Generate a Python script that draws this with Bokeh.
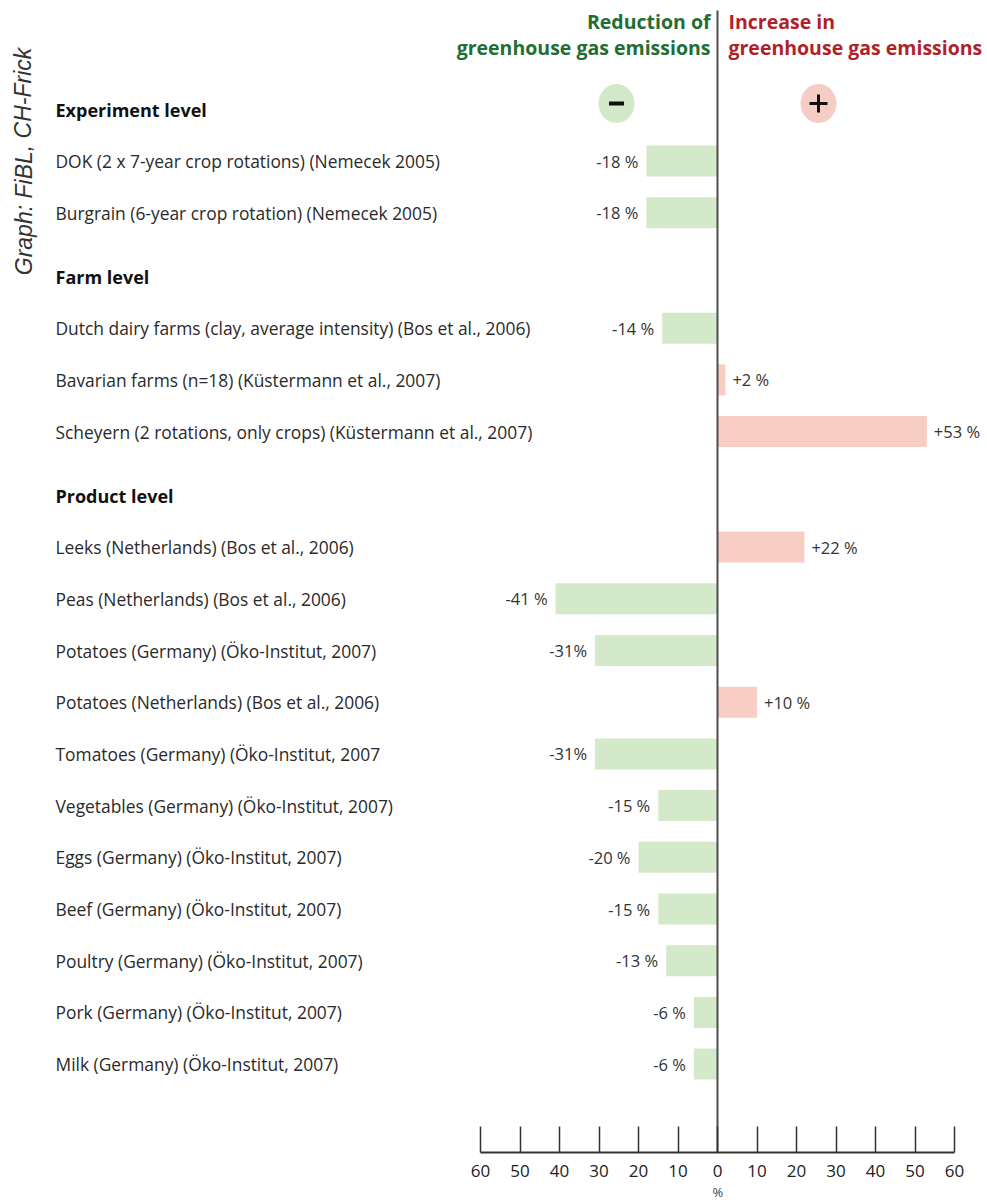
from bokeh.plotting import figure
from bokeh.models import Range1d, LinearAxis, FixedTicker, CustomJSTickFormatter, ColumnDataSource, Title
from bokeh.core.properties import value
from bokeh.embed import file_html
from bokeh.resources import INLINE

# ---------------- data ----------------
groups = ["Experiment level", "Farm level", "Product level"]
group_sizes = [2, 3, 11]
studies = [
    "DOK (2 x 7-year crop rotations) (Nemecek 2005)",
    "Burgrain (6-year crop rotation) (Nemecek 2005)",
    "Dutch dairy farms (clay, average intensity) (Bos et al., 2006)",
    "Bavarian farms (n=18) (Küstermann et al., 2007)",
    "Scheyern (2 rotations, only crops) (Küstermann et al., 2007)",
    "Leeks (Netherlands) (Bos et al., 2006)",
    "Peas (Netherlands) (Bos et al., 2006)",
    "Potatoes (Germany) (Öko-Institut, 2007)",
    "Potatoes (Netherlands) (Bos et al., 2006)",
    "Tomatoes (Germany) (Öko-Institut, 2007",
    "Vegetables (Germany) (Öko-Institut, 2007)",
    "Eggs (Germany) (Öko-Institut, 2007)",
    "Beef (Germany) (Öko-Institut, 2007)",
    "Poultry (Germany) (Öko-Institut, 2007)",
    "Pork (Germany) (Öko-Institut, 2007)",
    "Milk (Germany) (Öko-Institut, 2007)",
]
changes = [-18, -18, -14, 2, 53, 22, -41, -31, 10, -31, -15, -20, -15, -13, -6, -6]
change_labels = ["-18 %", "-18 %", "-14 %", "+2 %", "+53 %", "+22 %", "-41 %", "-31%",
                 "+10 %", "-31%", "-15 %", "-20 %", "-15 %", "-13 %", "-6 %", "-6 %"]
axis_ticks = [-60, -50, -40, -30, -20, -10, 0, 10, 20, 30, 40, 50, 60]
title_neg = ["Reduction of", "greenhouse gas emissions"]
title_pos = ["Increase in", "greenhouse gas emissions"]
credit = "Graph: FiBL, CH-Frick"

# ---------------- layout ----------------
ZERO_PX = 717.0
PX_PER_PCT = 3.95
FRAME_W = 985
FRAME_H = 1152


def px2x(px):
    return (px - ZERO_PX) / PX_PER_PCT


FIRST_HEADER_Y = 109
HEADER_TO_ROW = 51.5
ROW_PITCH = 51.7
ROW_TO_HEADER = 64

header_y, row_y = [], []
y = FIRST_HEADER_Y
for gi, size in enumerate(group_sizes):
    if gi > 0:
        y = row_y[-1] + ROW_TO_HEADER
    header_y.append(y)
    for k in range(size):
        y += HEADER_TO_ROW if k == 0 else ROW_PITCH
        row_y.append(y)

GREEN_BAR = "#d4e9c9"
PINK_BAR = "#f7cdc4"
TEXT_FONT = "Open Sans"

p = figure(frame_width=FRAME_W, frame_height=FRAME_H,
           x_range=Range1d(px2x(0), px2x(FRAME_W)),
           y_range=Range1d(FRAME_H, 0),
           x_axis_type=None, y_axis_type=None,
           toolbar_location=None, output_backend="svg",
           min_border=0, min_border_left=0, min_border_right=0,
           min_border_top=0, min_border_bottom=0)
p.outline_line_color = None
p.grid.visible = False
p.background_fill_color = "white"
p.border_fill_color = "white"

# bars
src = ColumnDataSource(dict(
    y=row_y, v=changes, lab=change_labels, study=studies,
    color=[PINK_BAR if c > 0 else GREEN_BAR for c in changes],
))
p.hbar(y="y", left=0, right="v", height=31, fill_color="color", line_color=None, source=src)

# zero line
p.segment(x0=[0], y0=[10], x1=[0], y1=[FRAME_H], line_color="#4d4d4d", line_width=2)

# value labels
neg_idx = [i for i, c in enumerate(changes) if c < 0]
pos_idx = [i for i, c in enumerate(changes) if c > 0]
p.text(x=[changes[i] for i in neg_idx], y=[row_y[i] for i in neg_idx],
       text=[change_labels[i] for i in neg_idx], x_offset=-8,
       text_align="right", text_baseline="middle", text_font=value(TEXT_FONT),
       text_font_size="16.5px", text_color="#333333")
p.text(x=[changes[i] for i in pos_idx], y=[row_y[i] for i in pos_idx],
       text=[change_labels[i] for i in pos_idx], x_offset=7,
       text_align="left", text_baseline="middle", text_font=value(TEXT_FONT),
       text_font_size="16.5px", text_color="#333333")

# study labels
LABEL_X = px2x(55)
p.text(x=[LABEL_X] * len(studies), y=row_y, text=studies,
       text_align="left", text_baseline="middle", text_font=value(TEXT_FONT),
       text_font_size="17.4px", text_color="#2a2a2a")

# group headers
p.text(x=[LABEL_X] * len(groups), y=header_y, text=groups,
       text_align="left", text_baseline="middle", text_font=value(TEXT_FONT),
       text_font_size="18px", text_font_style="bold", text_color="#111111")

# titles
p.text(x=[px2x(710)] * 2, y=[21, 47], text=title_neg, text_align="right",
       text_baseline="middle", text_font=value(TEXT_FONT), text_font_size="19.5px",
       text_font_style="bold", text_color="#1f6e33")
p.text(x=[px2x(728)] * 2, y=[21, 47], text=title_pos, text_align="left",
       text_baseline="middle", text_font=value(TEXT_FONT), text_font_size="19.5px",
       text_font_style="bold", text_color="#b11f2a")

# sign circles
p.ellipse(x=[px2x(616), px2x(818)], y=[103, 103], width=36, height=39,
          width_units="screen", height_units="screen",
          fill_color=["#d3e8c9", "#f6cdc4"], line_color=None)
p.scatter(x=[px2x(616)], y=[103], marker="dash", size=15, line_width=4, line_color="#111111")
p.scatter(x=[px2x(818)], y=[103], marker="cross", size=18, line_width=3, line_color="#111111")

# credit
p.text(x=[px2x(23)], y=[161], text=[credit], angle=1.5708, text_align="center",
       text_baseline="middle", text_font=value("Liberation Sans"), text_font_size="23px",
       text_font_style="italic", text_color="#333333")

# bottom axis
ax = LinearAxis(bounds=(-60, 60), ticker=FixedTicker(ticks=axis_ticks),
                formatter=CustomJSTickFormatter(code="return Math.abs(tick).toFixed(0)"),
                major_tick_in=26, major_tick_out=0, minor_tick_in=0, minor_tick_out=0,
                axis_line_color="#333333", axis_line_width=2,
                major_tick_line_color="#333333", major_tick_line_width=1.5,
                major_label_standoff=12, major_label_text_font=TEXT_FONT,
                major_label_text_font_size="17px", major_label_text_color="#222222")
p.add_layout(ax, "below")
p.add_layout(Title(text="%", align="left", offset=ZERO_PX - 5, standoff=3,
                   text_font=TEXT_FONT, text_font_size="13px", text_font_style="normal",
                   text_color="#444444"), "below")

open("out.html", "w").write(file_html(p, INLINE))
